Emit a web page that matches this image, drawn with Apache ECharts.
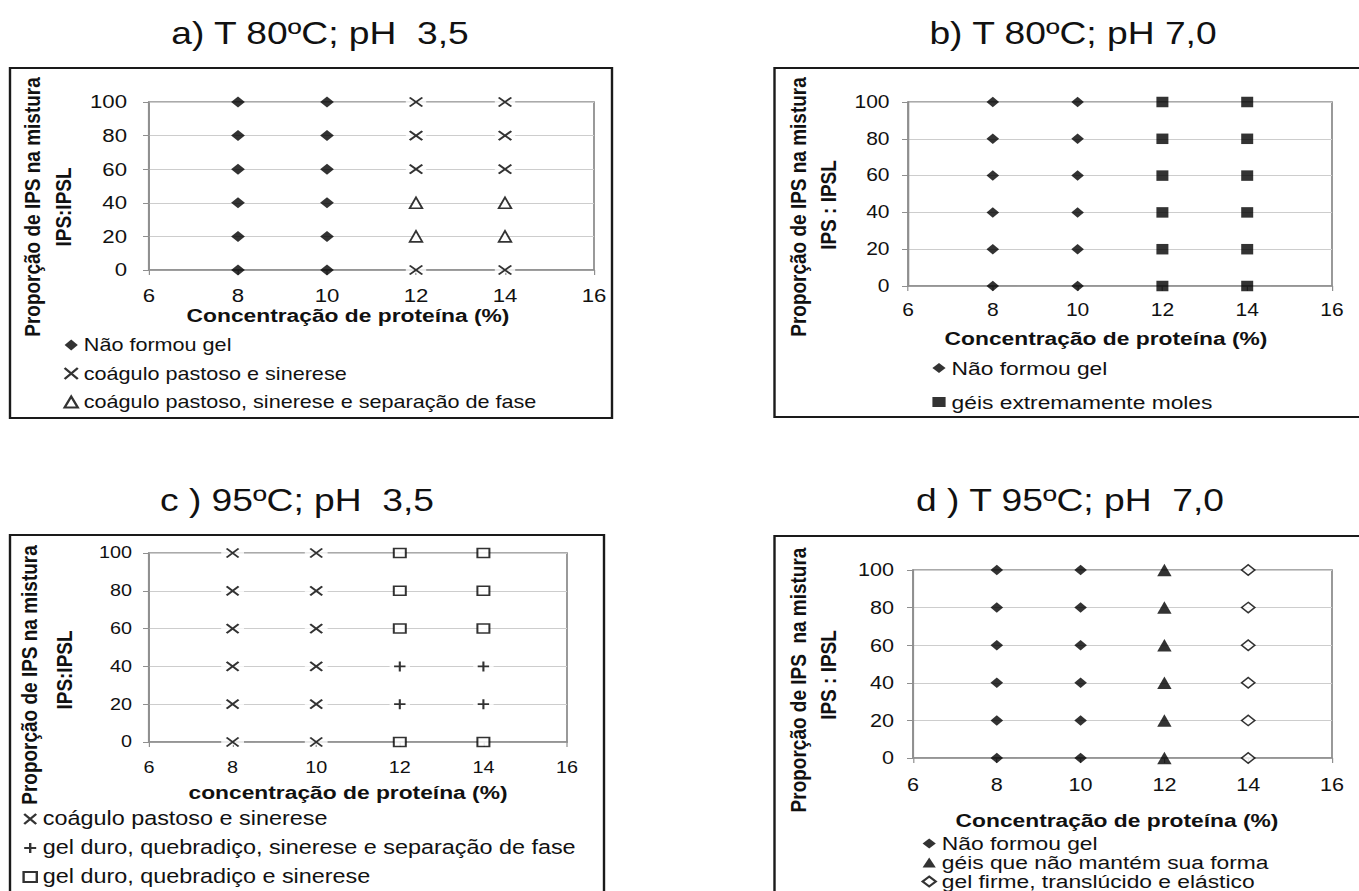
<!DOCTYPE html>
<html><head><meta charset="utf-8">
<script src="https://cdn.jsdelivr.net/npm/echarts@6/dist/echarts.min.js"></script>
<style>
html,body{margin:0;padding:0;background:#fff;overflow:hidden;width:1359px;height:891px}
#chart{width:1133px;height:891px;transform:scaleX(1.2);transform-origin:0 0}
</style></head><body><div id="chart"></div>
<script>
// ---------- data ----------
const xTickValues = [6, 8, 10, 12, 14, 16];
const yTickValues = [0, 20, 40, 60, 80, 100];

const panelTitles = ['a) T 80ºC; pH  3,5', 'b) T 80ºC; pH 7,0', 'c ) 95ºC; pH  3,5', 'd ) T 95ºC; pH  7,0'];
const yTitles = [
  ['Proporção de IPS na mistura', 'IPS:IPSL'],
  ['Proporção de IPS na mistura', 'IPS : IPSL'],
  ['Proporção de IPS na mistura', 'IPS:IPSL'],
  ['Proporção de IPS  na mistura', 'IPS : IPSL']
];
const xTitles = ['Concentração de proteína (%)', 'Concentração de proteína (%)', 'concentração de proteína (%)', 'Concentração de proteína (%)'];

const N_NAO = 'Não formou gel';
const N_COAG = 'coágulo pastoso e sinerese';
const N_COAG_SEP = 'coágulo pastoso, sinerese e separação de fase';
const N_MOLES = 'géis extremamente moles';
const N_DURO_SEP = 'gel duro, quebradiço, sinerese e separação de fase';
const N_DURO = 'gel duro, quebradiço e sinerese';
const N_NAO_MANTEM = 'géis que não mantém sua forma';
const N_FIRME = 'gel firme, translúcido e elástico';

// a) T 80ºC; pH 3,5
const aNaoFormouGel = [[8,0],[8,20],[8,40],[8,60],[8,80],[8,100],[10,0],[10,20],[10,40],[10,60],[10,80],[10,100]];
const aCoaguloSinerese = [[12,0],[12,60],[12,80],[12,100],[14,0],[14,60],[14,80],[14,100]];
const aCoaguloSeparacao = [[12,20],[12,40],[14,20],[14,40]];
// b) T 80ºC; pH 7,0
const bNaoFormouGel = [[8,0],[8,20],[8,40],[8,60],[8,80],[8,100],[10,0],[10,20],[10,40],[10,60],[10,80],[10,100]];
const bGeisMoles = [[12,0],[12,20],[12,40],[12,60],[12,80],[12,100],[14,0],[14,20],[14,40],[14,60],[14,80],[14,100]];
// c) 95ºC; pH 3,5
const cCoaguloSinerese = [[8,0],[8,20],[8,40],[8,60],[8,80],[8,100],[10,0],[10,20],[10,40],[10,60],[10,80],[10,100]];
const cGelDuroSeparacao = [[12,20],[12,40],[14,20],[14,40]];
const cGelDuroSinerese = [[12,0],[12,60],[12,80],[12,100],[14,0],[14,60],[14,80],[14,100]];
// d) T 95ºC; pH 7,0
const dNaoFormouGel = [[8,0],[8,20],[8,40],[8,60],[8,80],[8,100],[10,0],[10,20],[10,40],[10,60],[10,80],[10,100]];
const dNaoMantem = [[12,0],[12,20],[12,40],[12,60],[12,80],[12,100]];
const dGelFirme = [[14,0],[14,20],[14,40],[14,60],[14,80],[14,100]];

// ---------- layout (reference pixels; page is stretched horizontally by SX) ----------
const SX = 1.2;
const px = v => v / SX;
const FONT = '"Liberation Sans", Arial, sans-serif';
const INK = '#111';
const AXIS_GRAY = '#8f8f8f';
const GRID_GRAY = '#cdcdcd';

const panels = [
  {grid:{l:149,r:594,t:102,b:270}, box:{l:10,r:612,t:68,b:418}, title:[320,33], yt:[[32,207],[63,207]], xt:[348,315], tickFs:18.5, ylm:22, xlm:16, leg:{x:70,top:335,gap:8.5,lh:20,fs:18,iw:11,ih:11}},
  {grid:{l:908,r:1332,t:102,b:286}, box:{l:774.5,r:1375,t:68,b:417}, title:[1073,33], yt:[[798,207],[828,205]], xt:[1106,338], tickFs:17.5, ylm:18.5, xlm:15, leg:{x:939,top:358,gap:14,lh:20,fs:19,iw:11,ih:10}},
  {grid:{l:149,r:567,t:553,b:742}, box:{l:10,r:604,t:535,b:905}, title:[297,500], yt:[[29,675],[64,670]], xt:[348,792], tickFs:16.5, ylm:17, xlm:17, leg:{x:29,top:809,gap:9,lh:20,fs:19.5,iw:11,ih:10}},
  {grid:{l:913,r:1332,t:570,b:758}, box:{l:774.5,r:1375,t:536,b:905}, title:[1070,500], yt:[[798,680],[828,675]], xt:[1117,820], tickFs:18, ylm:19, xlm:18, leg:{x:928,top:834,gap:0,lh:17,fs:19,iw:11,ih:10}}
];

const legendLists = [
  [N_NAO, N_COAG, N_COAG_SEP],
  [N_NAO, N_MOLES],
  [N_COAG, N_DURO_SEP, N_DURO],
  [N_NAO, N_NAO_MANTEM, N_FIRME]
];

// ---------- symbols ----------
const CROSS = 'path://M0,0L10,10M10,0L0,10';
const PLUS = 'path://M5,0L5,10M0,5L10,5';
const filled = {color:'#000'};
const hollow = {color:'#fff', borderColor:'#000', borderWidth:1.6};
const stroke = {color:'rgba(0,0,0,0)', borderColor:'#000', borderWidth:1.8};
const whiteBg = {color:'#fff'};

function sc(name, i, data, symbol, size, style) {
  return {type:'scatter', name, xAxisIndex:i, yAxisIndex:i, data, symbol, symbolSize:size, itemStyle:style, silent:true, animation:false};
}

const series = [
  sc('_bgA', 0, aCoaguloSinerese, 'rect', [17,6], whiteBg),
  sc(N_NAO, 0, aNaoFormouGel, 'diamond', [11.5,11], filled),
  sc(N_COAG, 0, aCoaguloSinerese, CROSS, [10.5,9], stroke),
  sc(N_COAG_SEP, 0, aCoaguloSeparacao, 'triangle', [10.5,11], hollow),

  sc(N_NAO, 1, bNaoFormouGel, 'diamond', [10.5,10.5], filled),
  sc(N_MOLES, 1, bGeisMoles, 'rect', [10,10.5], filled),

  sc('_bgC1', 2, cCoaguloSinerese, 'rect', [19,6], whiteBg),
  sc('_bgC2', 2, cGelDuroSeparacao, 'rect', [17,6], whiteBg),
  sc(N_COAG, 2, cCoaguloSinerese, CROSS, [10,9], stroke),
  sc(N_DURO_SEP, 2, cGelDuroSeparacao, PLUS, [9.5,10], stroke),
  sc(N_DURO, 2, cGelDuroSinerese, 'rect', [10,9], hollow),

  sc(N_NAO, 3, dNaoFormouGel, 'diamond', [10.5,10.5], filled),
  sc(N_NAO_MANTEM, 3, dNaoMantem, 'triangle', [12,12.5], filled),
  sc(N_FIRME, 3, dGelFirme, 'diamond', [11,10.5], {color:'#fff', borderColor:'#000', borderWidth:1.4})
];

const grids = panels.map(p => ({
  left: px(p.grid.l), top: p.grid.t,
  width: px(p.grid.r - p.grid.l), height: p.grid.b - p.grid.t,
  show: true, borderColor: AXIS_GRAY, borderWidth: 1.5, backgroundColor: 'transparent'
}));

const xAxes = panels.map((p, i) => ({
  gridIndex: i, type: 'value',
  min: xTickValues[0], max: xTickValues[xTickValues.length - 1], interval: xTickValues[1] - xTickValues[0],
  axisLine: {show: true, onZero: false, lineStyle: {color: AXIS_GRAY, width: 1.5}},
  axisTick: {show: true, length: 5, lineStyle: {color: AXIS_GRAY, width: 1}},
  axisLabel: {margin: p.xlm, fontSize: p.tickFs, color: INK, fontFamily: FONT},
  splitLine: {show: false}
}));

const yAxes = panels.map((p, i) => ({
  gridIndex: i, type: 'value',
  min: yTickValues[0], max: yTickValues[yTickValues.length - 1], interval: yTickValues[1] - yTickValues[0],
  axisLine: {show: true, onZero: false, lineStyle: {color: AXIS_GRAY, width: 1.5}},
  axisTick: {show: true, length: px(6), lineStyle: {color: AXIS_GRAY, width: 1}},
  axisLabel: {margin: px(p.ylm), fontSize: p.tickFs, color: INK, fontFamily: FONT},
  splitLine: {show: true, lineStyle: {color: GRID_GRAY, width: 1}}
}));

const legends = panels.map((p, i) => ({
  data: legendLists[i],
  orient: 'vertical',
  left: px(p.leg.x) - p.leg.iw / 2,
  top: p.leg.top,
  height: 120,
  itemWidth: p.leg.iw, itemHeight: p.leg.ih, itemGap: p.leg.gap,
  padding: 0, selectedMode: false,
  textStyle: {fontSize: p.leg.fs, lineHeight: p.leg.lh, color: INK, fontFamily: FONT}
}));

const graphics = [];
panels.forEach((p, i) => {
  graphics.push({type: 'rect', silent: true, z: 0,
    shape: {x: px(p.box.l), y: p.box.t, width: px(p.box.r - p.box.l), height: p.box.b - p.box.t},
    style: {fill: 'none', stroke: '#1a1a1a', lineWidth: 2}});
  graphics.push({type: 'text', silent: true, x: px(p.title[0]), y: p.title[1],
    style: {text: panelTitles[i], font: '31px ' + FONT, fill: INK, align: 'center', verticalAlign: 'middle'}});
  yTitles[i].forEach((t, k) => {
    graphics.push({type: 'text', silent: true, x: px(p.yt[k][0]), y: p.yt[k][1], rotation: Math.PI / 2,
      style: {text: t, font: 'bold 19px ' + FONT, fill: INK, align: 'center', verticalAlign: 'middle'}});
  });
  graphics.push({type: 'text', silent: true, x: px(p.xt[0]), y: p.xt[1],
    style: {text: xTitles[i], font: 'bold 19px ' + FONT, fill: INK, align: 'center', verticalAlign: 'middle'}});
});

const chart = echarts.init(document.getElementById('chart'), null, {renderer: 'svg', width: 1133, height: 891});
chart.setOption({
  animation: false,
  backgroundColor: '#fff',
  grid: grids, xAxis: xAxes, yAxis: yAxes,
  legend: legends,
  graphic: {elements: graphics},
  series
});
</script></body></html>
